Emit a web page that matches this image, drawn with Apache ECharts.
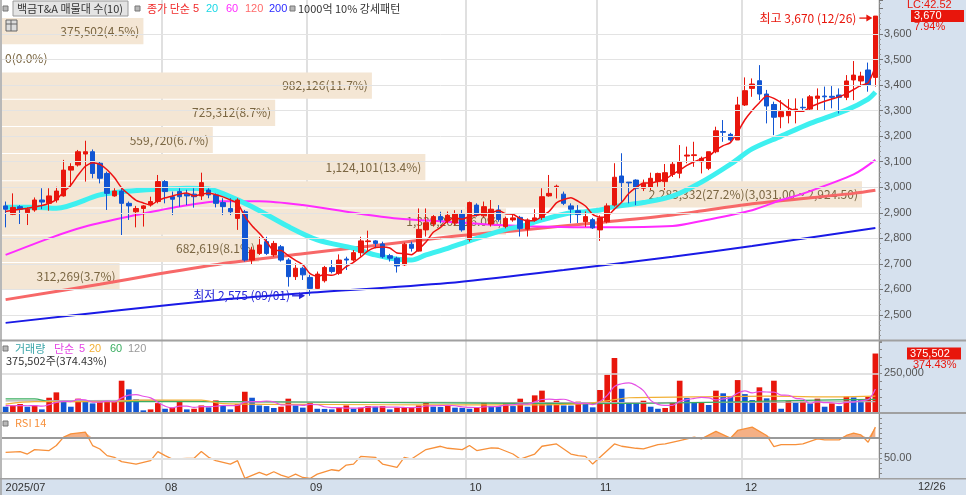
<!DOCTYPE html>
<html><head><meta charset="utf-8">
<script src="https://cdn.jsdelivr.net/npm/echarts@6/dist/echarts.min.js"></script>
<style>html,body{margin:0;padding:0;background:#fff}#c{width:966px;height:495px}</style>
</head><body><div id="c"></div>
<script>
const year = '2025';
const dates = [
'07/02','07/03','07/04','07/07','07/08','07/09','07/10','07/11','07/14','07/15','07/16','07/17','07/18','07/21','07/22','07/23','07/24','07/25','07/28','07/29','07/30','07/31',
'08/01','08/04','08/05','08/06','08/07','08/08','08/11','08/12','08/13','08/14','08/18','08/19','08/20','08/21','08/22','08/25','08/26','08/27','08/28','08/29',
'09/01','09/02','09/03','09/04','09/05','09/08','09/09','09/10','09/11','09/12','09/15','09/16','09/17','09/18','09/19','09/22','09/23','09/24','09/25','09/26','09/29','09/30',
'10/01','10/02','10/10','10/13','10/14','10/15','10/16','10/17','10/20','10/21','10/22','10/23','10/24','10/27','10/28','10/29','10/30','10/31',
'11/03','11/04','11/05','11/06','11/07','11/10','11/11','11/12','11/13','11/14','11/17','11/18','11/19','11/20','11/21','11/24','11/25','11/26','11/27','11/28',
'12/01','12/02','12/03','12/04','12/05','12/08','12/09','12/10','12/11','12/12','12/15','12/16','12/17','12/18','12/19','12/22','12/23','12/24','12/26'
];
const opens = [2927,2894,2924,2900,2911,2950,2937,2950,2966,3067,3087,3130,3139,3094,3054,2966,2985,2937,2904,2917,2931,2944,
3022,2963,2983,2973,2973,2966,2989,2970,2940,2917,2878,2904,2715,2741,2787,2735,2767,2715,2650,2683,
2647,2604,2634,2686,2663,2719,2715,2744,2787,2790,2778,2732,2722,2696,2777,2750,2833,2856,2885,2868,2860,2895,
2796,2930,2888,2856,2911,2846,2872,2882,2836,2872,2882,2966,3000,2973,2927,2908,2865,2873,
2833,2865,2930,3044,3020,3028,2996,3000,3022,3022,3050,3055,3122,3124,3100,3074,3139,3218,3207,3185,
3322,3387,3417,3365,3324,3276,3280,3302,3313,3306,3348,3357,3356,3361,3352,3420,3416,3459,3430];
const closes = [2914,2921,2914,2914,2950,2942,2966,2985,3067,3081,3139,3139,3054,3035,2976,2985,2937,2927,2917,2927,2944,3022,
2983,2953,2963,2966,2963,3018,2970,2937,2924,2904,2950,2715,2754,2774,2741,2780,2715,2650,2683,2657,
2604,2660,2686,2670,2715,2715,2744,2790,2790,2780,2728,2722,2692,2777,2761,2835,2861,2885,2872,2890,2895,2833,
2940,2891,2924,2914,2874,2878,2880,2839,2872,2880,2963,2976,3004,2937,2914,2893,2885,2841,
2880,2927,3039,3018,3017,2996,3015,3035,3054,3057,3090,3100,3126,3127,3113,3139,3221,3215,3185,3322,
3378,3404,3365,3318,3274,3296,3300,3306,3311,3354,3357,3354,3352,3352,3416,3439,3435,3400,3670];
const lows = [2843,2891,2856,2852,2904,2914,2908,2940,2963,3002,3081,3022,3035,3015,2911,2963,2813,2872,2843,2846,2924,2937,
2937,2891,2924,2930,2920,2950,2957,2921,2891,2891,2833,2709,2696,2735,2735,2728,2709,2611,2637,2637,
2575,2598,2627,2663,2657,2676,2709,2728,2752,2761,2722,2709,2666,2692,2748,2748,2807,2846,2859,2860,2850,2826,
2787,2885,2882,2846,2865,2839,2865,2807,2807,2865,2872,2963,2956,2930,2859,2860,2845,2837,
2790,2859,2924,2943,2937,2930,2985,2989,3002,2989,3040,3035,3094,3080,3054,3067,3133,3178,3178,3185,
3318,3354,3341,3250,3204,3231,3250,3250,3296,3302,3302,3302,3309,3289,3341,3341,3394,3374,3394];
const highs = [2944,2976,2930,2921,2960,2996,2996,3002,3107,3094,3146,3182,3148,3100,3061,2996,2996,2944,2927,2930,2963,3048,
3028,2983,2996,2990,2996,3057,2996,2976,2957,2957,2957,2911,2767,2806,2806,2790,2774,2722,2702,2689,
2657,2670,2692,2715,2737,2728,2754,2806,2830,2793,2787,2739,2728,2783,2787,2917,2917,2891,2904,2905,2910,2911,
2944,2937,2944,2950,2930,2885,2893,2888,2878,2914,2996,3048,3010,2983,2937,2930,2905,2880,
2890,2937,3094,3133,3020,3031,3030,3057,3057,3091,3100,3165,3159,3178,3120,3139,3237,3263,3213,3354,
3430,3426,3478,3381,3335,3341,3345,3348,3348,3361,3387,3394,3396,3387,3439,3494,3452,3488,3670];
const volumes = [38000,46000,55000,38000,46000,21000,95000,129000,70000,38000,89000,80000,59000,68000,69000,70000,203000,148000,85000,15000,21000,61000,
25000,32000,68000,21000,25000,46000,34000,78000,46000,21000,55000,133000,95000,46000,42000,30000,38000,89000,46000,32000,
61000,25000,24000,21000,32000,46000,25000,32000,42000,38000,42000,21000,32000,33000,34000,46000,68000,38000,36000,46000,32000,30000,
25000,32000,63000,42000,41000,63000,42000,89000,38000,110000,140000,55000,76000,46000,45000,70000,63000,34000,
144000,241000,347000,152000,63000,62000,76000,38000,25000,30000,63000,203000,93000,63000,64000,49000,140000,123000,102000,207000,
118000,80000,161000,91000,203000,25000,74000,63000,70000,59000,89000,38000,59000,42000,102000,97000,80000,100286,375502];
// moving-average lines as [bar index, value]
const ma20Pts = [[0,2922],[4,2922],[7,2918],[13,2970],[16,2982],[19,2989],[22,2993],[25,2996],[28,2993],[30,2975],[34,2924],[39,2846],[43,2794],[48,2761],[51,2735],[54,2718],[56,2715],[58,2735],[61,2761],[64,2790],[69,2835],[71,2846],[74,2872],[78,2900],[80,2904],[82,2911],[84,2924],[88,2940],[92,2965],[96,3020],[100,3090],[103,3150],[107,3200],[111,3250],[116,3302],[119,3345],[120,3372]];
const ma60Pts = [[0,2735],[6,2800],[11,2846],[18,2891],[24,2925],[30,2945],[35,2945],[41,2930],[48,2900],[54,2878],[61,2865],[68,2852],[75,2845],[82,2843],[92,2848],[96,2868],[103,2910],[107,2950],[110,2975],[117,3050],[120,3107]];
const ma120Pts = [[0,2560],[13,2620],[21,2660],[31,2705],[41,2740],[48,2762],[61,2805],[71,2832],[82,2862],[92,2891],[103,2935],[117,2976],[120,2988]];
const ma200Pts = [[0,2469],[16,2519],[31,2563],[41,2585],[61,2625],[77,2676],[92,2728],[103,2770],[120,2840]];
const ma5Head = [2905,2910,2914,2918];
const volMa5Head = [45000,44000,45000,44000];
const volMa20Pts = [[0,55000],[4,70000],[15,70000],[18,80000],[27,80000],[30,58000],[45,52000],[60,50000],[72,50000],[80,58000],[83,75000],[86,95000],[95,100000],[105,105000],[115,100000],[120,105000]];
const volMa60Pts = [[0,88000],[4,88000],[6,72000],[30,70000],[60,62000],[80,58000],[90,60000],[100,68000],[110,78000],[120,85000]];
const volMa120Pts = [[0,75000],[20,78000],[30,70000],[60,66000],[80,64000],[100,66000],[120,70000]];
const rsiPts = [[0,56],[2,56.7],[3,54.3],[4,58.7],[6,57.7],[7,62.7],[8,71],[9,74.3],[11,76],[12,62.7],[13,59.3],[14,52.7],[15,51],[16,46.7],[18,44.3],[19,46],[20,47.7],[21,56.7],[22,52.7],[23,49.3],[25,50],[26,50],[27,56.7],[28,51],[29,47.7],[31,44.3],[32,47.7],[33,30.2],[35,36],[36,33.3],[37,36.7],[38,33.3],[39,31],[40,34.3],[41,31],[42,30],[43,34.3],[45,38.7],[46,37.7],[47,43.3],[48,44.3],[49,52],[51,51],[52,44.3],[54,41],[55,51],[56,49.3],[58,58.7],[60,62],[61,60],[63,58.7],[64,62.7],[65,57.7],[67,60.3],[68,60],[70,54.3],[71,49.3],[73,54.3],[74,62],[76,64.3],[78,54.3],[79,52.7],[80,52],[81,44.3],[82,51],[84,64.3],[85,62],[87,60],[88,59.3],[90,63.7],[91,64.3],[93,67.7],[94,69.3],[95,71],[96,69.3],[98,76.7],[100,70],[101,77.7],[103,81],[105,72.7],[106,61.7],[107,63.7],[109,63.7],[110,64.3],[112,69.3],[113,68.3],[115,68.3],[116,72.7],[117,75],[118,73.3],[119,66],[120,81]];
// volume profile (매물대), top band first
const bandVolumes = [375502,0,982126,725312,559720,1124101,2283332,1338262,682619,312269];
const bandTop = 3670, bandBottom = 2605;
const priceTicks = [2500,2600,2700,2800,2900,3000,3100,3200,3300,3400,3500,3600];
const lcText = 'LC:42.52';

const fmt = v => v.toLocaleString('en-US');
const n = dates.length;
const candleData = dates.map((d,i)=>[opens[i],closes[i],lows[i],highs[i]]);
const avg = a => a.reduce((s,x)=>s+x,0)/a.length;
const ma5 = closes.map((c,i)=> i<4 ? ma5Head[i] : +avg(closes.slice(i-4,i+1)).toFixed(1));
const volMa5 = volumes.map((v,i)=> i<4 ? volMa5Head[i] : avg(volumes.slice(i-4,i+1)));
const monthStart = i => i>0 && dates[i].slice(0,2)!==dates[i-1].slice(0,2);
const labelIdx = i => i===0 || monthStart(i);
const bandStep = (bandTop-bandBottom)/bandVolumes.length;
const bandTotal = bandVolumes.reduce((a,b)=>a+b,0);
const bandMax = Math.max(...bandVolumes);
const bandAxisMax = 2328500;

const RED='#e8160c', BLUE='#1256d3';
const KR='"Noto Sans CJK KR", sans-serif';
const LAT='"Liberation Sans", sans-serif';
const L=2, R=87;

const chart = echarts.init(document.getElementById('c'), null, {renderer:'canvas'});

const catAxis = (g, showLabel) => ({
  type:'category', gridIndex:g, data:dates, boundaryGap:true,
  axisLine:{show:false}, axisTick:{show:false},
  axisLabel: showLabel ? {show:true, interval:(i)=>labelIdx(i),
     formatter:(v,i)=> i===0 ? year+'/'+v.slice(0,2) : v.slice(0,2),
     align:'left', margin:4, fontSize:11, color:'#333', fontFamily:LAT} : {show:false},
  splitLine:{show:true, interval:(i)=>monthStart(i), lineStyle:{color:'#d6d6d6', width:1.5}}
});
const maLine = (pts, color, width, xi, yi, z) => ({
  type:'line', data:pts, xAxisIndex:xi, yAxisIndex:yi, symbol:'none', smooth:0.3, silent:true, z:z||2,
  lineStyle:{color, width}, itemStyle:{color}
});

const option = {
  animation:false,
  backgroundColor:'#ffffff',
  grid:[
    {left:L,right:R,top:0,height:340.5},
    {left:L,right:R,top:341,height:71.7},
    {left:L,right:R,top:413,height:65.5},
    {left:L,right:R,top:0,height:340.5}
  ],
  xAxis:[
    catAxis(0,false), catAxis(1,false), catAxis(2,true),
    {type:'value', gridIndex:3, min:0, max:bandAxisMax, show:false}
  ],
  yAxis:[
    {type:'value', gridIndex:0, position:'right', min:2400, max:3733, interval:100,
     axisLine:{show:true, lineStyle:{color:'#8a8a8a'}},
     axisTick:{show:true, length:4, lineStyle:{color:'#777'}},
     minorTick:{show:true, splitNumber:5, length:2, lineStyle:{color:'#999'}},
     axisLabel:{margin:5, fontSize:11, color:'#555', fontFamily:LAT, formatter:v=>(v>=2500&&v<=3600)?fmt(v):''},
     splitLine:{show:false}},
    {type:'value', gridIndex:1, position:'right', min:0, max:455000, interval:50000,
     axisLine:{show:true, lineStyle:{color:'#8a8a8a'}},
     axisTick:{show:true, length:3, lineStyle:{color:'#888'}},
     axisLabel:{margin:5, fontSize:11, color:'#555', fontFamily:LAT, formatter:v=> v===250000?fmt(v):''},
     splitLine:{show:false}},
    {type:'value', gridIndex:2, position:'right', min:30, max:95, interval:5,
     axisLine:{show:true, lineStyle:{color:'#8a8a8a'}},
     axisTick:{show:true, length:3, lineStyle:{color:'#888'}},
     axisLabel:{margin:5, fontSize:11, color:'#555', fontFamily:LAT, formatter:v=> v===50?'50.00':''},
     splitLine:{show:false}},
    {type:'value', gridIndex:3, min:2400, max:3733, show:false}
  ],
  series:[
    // horizontal price gridlines
    {type:'line', xAxisIndex:0, yAxisIndex:0, data:[], z:0, silent:true,
     markLine:{silent:true, symbol:'none', label:{show:false}, animation:false,
       lineStyle:{color:'#e3e3e3', width:1, type:'solid'}, data:priceTicks.map(v=>({yAxis:v}))}},
    {type:'custom', xAxisIndex:3, yAxisIndex:3, z:1, silent:true,
     data: bandVolumes.map((v,k)=>[v, bandTop-(k+1)*bandStep, bandTop-k*bandStep, k]),
     encode:{x:0, y:[1,2]},
     renderItem:(params, api)=>{
       const v=api.value(0), lo=api.value(1), hi=api.value(2);
       const p1=api.coord([0,hi]), p2=api.coord([v,lo]);
       let txt = fmt(v)+'('+(v/bandTotal*100).toFixed(1)+'%)';
       if (v===bandMax) txt += '('+hi.toLocaleString('en-US',{minimumFractionDigits:2,maximumFractionDigits:2})+' ~ '+lo.toLocaleString('en-US',{minimumFractionDigits:2,maximumFractionDigits:2})+')';
       return {type:'group', children:[
         {type:'rect', shape:{x:p1[0], y:p1[1]+2, width:Math.max(0,p2[0]-p1[0]), height:p2[1]-p1[1]-1}, style:{fill:'#f4e6d4'}},
         {type:'text', style:{text:txt, x: v>0 ? p2[0]-4 : p1[0]+3, y:(p1[1]+p2[1])/2+1.5, align: v>0?'right':'left', verticalAlign:'middle', fill:'#7a6642', font:'12px '+KR}}
       ]};
     }},
    maLine(ma200Pts,'#1a1ae6',2,0,0),
    maLine(ma120Pts,'#f76868',3,0,0),
    maLine(ma60Pts,'#ff2bff',2,0,0),
    maLine(ma20Pts,'#3ef0f0',5,0,0),
    {type:'candlestick', xAxisIndex:0, yAxisIndex:0, data:candleData, barWidth:5, z:3, silent:true,
     itemStyle:{color:RED, color0:BLUE, borderColor:RED, borderColor0:BLUE, borderWidth:1}},
    {type:'line', xAxisIndex:0, yAxisIndex:0, data:ma5, symbol:'none', smooth:0.2, z:4, silent:true,
     lineStyle:{color:'#ee1111', width:1.5}},
    {type:'bar', xAxisIndex:1, yAxisIndex:1, data:volumes, barWidth:'78%', z:3, silent:true,
     itemStyle:{color:p=> (p.dataIndex>0 && volumes[p.dataIndex]>=volumes[p.dataIndex-1]) ? RED : BLUE},
     markLine:{silent:true, symbol:'none', label:{show:false}, lineStyle:{color:'#d9d9d9', width:1.5, type:'solid'}, data:[{yAxis:250000}]}},
    maLine(volMa120Pts,'#b0b0b0',1.2,1,1,4),
    maLine(volMa60Pts,'#3cae62',1.2,1,1,4),
    maLine(volMa20Pts,'#f2b035',1.2,1,1,4),
    {type:'line', xAxisIndex:1, yAxisIndex:1, data:volMa5, symbol:'none', smooth:0.4, z:5, silent:true,
     lineStyle:{color:'#e552e5', width:1.2}},
    {type:'line', xAxisIndex:2, yAxisIndex:2, data:rsiPts.map(([i,v])=>[i,Math.max(v,70)]), symbol:'none', z:2, silent:true,
     lineStyle:{width:0}, areaStyle:{origin:70, color:'#f5b085', opacity:1}},
    {type:'line', xAxisIndex:2, yAxisIndex:2, data:rsiPts, symbol:'none', z:3, silent:true,
     lineStyle:{color:'#f7903a', width:1.3},
     markLine:{silent:true, symbol:'none', label:{show:false}, data:[
       {yAxis:70, lineStyle:{color:'#9a9a9a', width:2, type:'solid'}},
       {yAxis:50, lineStyle:{color:'#e2e2e2', width:2, type:'solid'}}]}}
  ]
};
chart.setOption(option);

const px = (idx, price) => chart.convertToPixel({xAxisIndex:0, yAxisIndex:0}, [idx, price]);
const hiVal = Math.max(...highs), hiIdx = highs.indexOf(hiVal);
const loVal = Math.min(...lows), loIdx = lows.indexOf(loVal);
const pHi = px(hiIdx, hiVal), pLo = px(loIdx, loVal);
const pLast = px(n-1, closes[n-1]);
const pVol = chart.convertToPixel({xAxisIndex:1, yAxisIndex:1}, [n-1, volumes[n-1]]);
const chg = ((closes[n-1]/closes[n-2]-1)*100).toFixed(2)+'%';
const volPct = (volumes[n-1]/volumes[n-2]*100).toFixed(2)+'%';

const icon = (x,y)=>({type:'rect', shape:{x,y,width:5,height:5}, style:{fill:'#b8b8b8', stroke:'#777', lineWidth:1}, z:100});
const t = (text,x,y,fill,opts)=>Object.assign({type:'text', z:100, style:Object.assign({text, x, y, fill, font:'11px '+KR, verticalAlign:'middle'}, opts||{})});
const arrow = (x1,x2,y,color)=>([
  {type:'line', z:100, shape:{x1, y1:y, x2:x2-4, y2:y}, style:{stroke:color, lineWidth:1.3}},
  {type:'polygon', z:100, shape:{points:[[x2,y],[x2-6,y-3.5],[x2-6,y+3.5]]}, style:{fill:color}}
]);
const NUM = {font:'11px '+LAT};
const axisX = 966-R;
const graphics = [
  {type:'rect', z:-10, silent:true, shape:{x:axisX, y:0, width:R, height:495}, style:{fill:'#d6e1ee'}},
  {type:'rect', z:-10, silent:true, shape:{x:0, y:479, width:axisX, height:16}, style:{fill:'#d6e1ee'}},
  {type:'line', z:90, shape:{x1:0,y1:340.5,x2:966,y2:340.5}, style:{stroke:'#a0a0a0', lineWidth:2}},
  {type:'line', z:90, shape:{x1:0,y1:413,x2:966,y2:413}, style:{stroke:'#a0a0a0', lineWidth:2}},
  {type:'line', z:90, shape:{x1:0,y1:478.8,x2:966,y2:478.8}, style:{stroke:'#a0a0a0', lineWidth:1.5}},
  {type:'line', z:90, shape:{x1:1,y1:0,x2:1,y2:495}, style:{stroke:'#a0a0a0', lineWidth:1.5}},
  // top legend
  icon(3,6),
  {type:'rect', z:99, shape:{x:13,y:1,width:115,height:15}, style:{fill:'#e4e4e4', stroke:'#9a9a9a', lineWidth:1}},
  t('백금T&A 매물대 수(10)',17,9,'#333'),
  icon(135,6),
  t('종가 단순',147,9,'#f02a2a'),
  t('5',193,9,'#f02a2a',NUM),
  t('20',206,9,'#19d8e6',NUM),
  t('60',226,9,'#ff2cff',NUM),
  t('120',245,9,'#ff6a6a',NUM),
  t('200',269,9,'#2b2bff',NUM),
  icon(290,6),
  t('1000억 10% 강세패턴',298,9,'#333'),
  {type:'rect', z:100, shape:{x:6,y:20,width:11,height:11}, style:{fill:'#dcdcdc', stroke:'#666', lineWidth:1}},
  {type:'line', z:100, shape:{x1:6,y1:24,x2:17,y2:24}, style:{stroke:'#666', lineWidth:1}},
  {type:'line', z:100, shape:{x1:11,y1:20,x2:11,y2:31}, style:{stroke:'#666', lineWidth:1}},
  // highest / lowest markers
  t('최고 '+fmt(hiVal)+' ('+dates[hiIdx]+')', pHi[0]-19, pHi[1]+2, RED, {align:'right', font:'12px '+KR}),
  ...arrow(pHi[0]-16, pHi[0]-3, pHi[1]+2, RED),
  t('최저 '+fmt(loVal)+' ('+dates[loIdx]+')', pLo[0]-20, pLo[1], '#2424d8', {align:'right', font:'12px '+KR}),
  ...arrow(pLo[0]-18, pLo[0]-5, pLo[1], '#2424d8'),
  // right axis current price
  t(lcText, axisX+28, pLast[1]-11, RED, NUM),
  {type:'rect', z:100, shape:{x:axisX+32, y:pLast[1]-6, width:53, height:12}, style:{fill:RED}},
  t(fmt(closes[n-1]), axisX+35, pLast[1], '#fff', NUM),
  t(chg, axisX+35, pLast[1]+11, RED, NUM),
  // volume panel
  icon(3,346),
  t('거래량',15,349,'#3aa5a8'),
  t('단순',54,349,'#e444e4'),
  t('5',79,349,'#e444e4',NUM),
  t('20',89,349,'#f2b035',NUM),
  t('60',110,349,'#3cae62',NUM),
  t('120',128,349,'#999',NUM),
  t(fmt(volumes[n-1])+'주('+volPct+')',6,361,'#333'),
  {type:'rect', z:100, shape:{x:axisX+28, y:pVol[1]-6, width:54, height:12}, style:{fill:RED}},
  t(fmt(volumes[n-1]), axisX+31, pVol[1], '#fff', NUM),
  t(volPct, axisX+34, pVol[1]+11, RED, NUM),
  // RSI
  icon(3,421),
  t('RSI 14',15,423,'#f7903a'),
  // last date
  t(dates[n-1], axisX+39, 487, '#333', NUM)
];
chart.setOption({graphic:graphics});
</script>
</body></html>
